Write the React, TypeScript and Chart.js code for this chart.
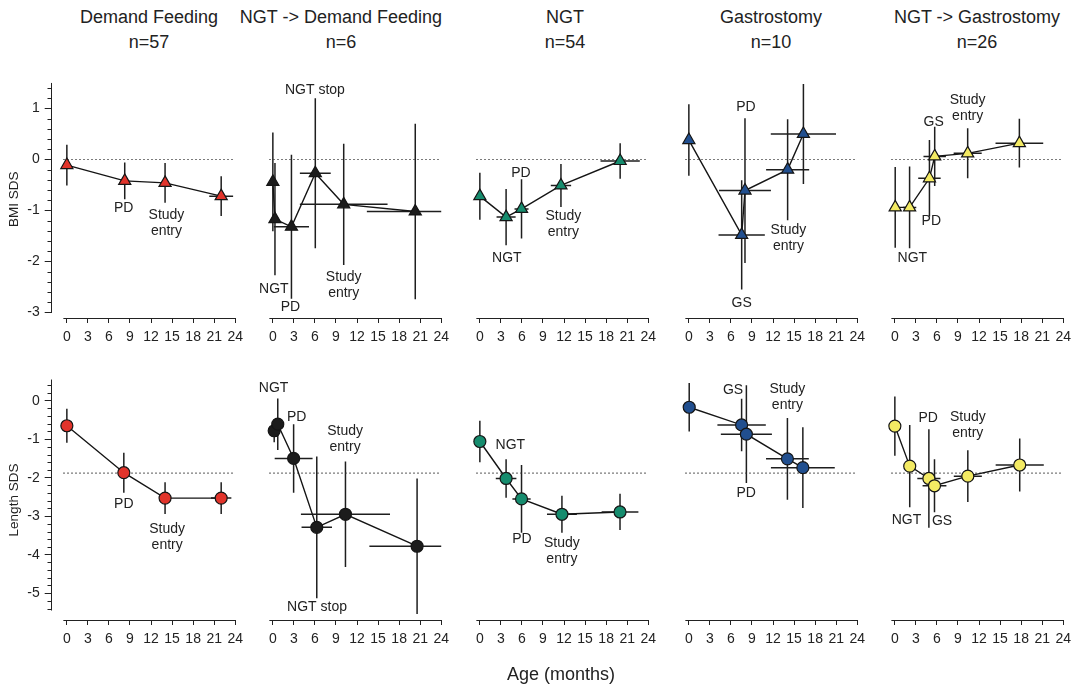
import React, { useEffect, useRef } from 'react';
import { Chart, registerables } from 'chart.js';

Chart.register(...registerables);

// ---------- Data (BMI SDS, top row) ----------
const bmiDemandAge = [0, 8.25, 14.0, 22.0];
const bmiDemandSds = [-0.11, -0.42, -0.46, -0.72];
const bmiDemandSdsErr = [0.4, 0.36, 0.39, 0.39];
const bmiDemandAgeErr = [0, 0, 0, 1.7];

const bmiNgtDemandAge = [0, 0.3, 2.65, 6.05, 10.1, 20.3];
const bmiNgtDemandSds = [-0.44, -1.17, -1.32, -0.27, -0.88, -1.02];
const bmiNgtDemandSdsErr = [0.97, 1.1, 1.41, 1.47, 1.19, 1.72];
const bmiNgtDemandAgeErr = [0, 0, 2.5, 2.2, 6.25, 6.9];

const bmiNgtAge = [0, 3.74, 5.94, 11.56, 20.0];
const bmiNgtSds = [-0.72, -1.13, -0.97, -0.51, -0.03];
const bmiNgtSdsErr = [0.46, 0.55, 0.58, 0.42, 0.35];
const bmiNgtAgeErr = [0, 1.36, 1.0, 1.45, 2.8];

const bmiGastroAge = [0, 7.53, 8.0, 14.08, 16.33];
const bmiGastroSds = [0.38, -1.48, -0.61, -0.2, 0.5];
const bmiGastroSdsErr = [0.7, 1.07, 1.42, 0.99, 0.98];
const bmiGastroAgeErr = [0, 3.3, 3.7, 3.07, 4.65];

const bmiNgtGastroAge = [0.05, 2.1, 4.93, 5.68, 10.38, 17.75];
const bmiNgtGastroSds = [-0.94, -0.94, -0.37, 0.06, 0.12, 0.32];
const bmiNgtGastroSdsErr = [0.79, 0.8, 0.75, 0.58, 0.49, 0.48];
const bmiNgtGastroAgeErr = [0, 0.95, 1.6, 1.6, 2.0, 3.4];

// ---------- Data (Length SDS, bottom row) ----------
const lenDemandAge = [0, 8.12, 14.0, 22.0];
const lenDemandSds = [-0.65, -1.87, -2.53, -2.53];
const lenDemandSdsErr = [0.44, 0.52, 0.41, 0.41];
const lenDemandAgeErr = [0, 0, 0, 1.45];

const lenNgtDemandAge = [0.19, 0.7, 2.96, 6.26, 10.35, 20.56];
const lenNgtDemandSds = [-0.78, -0.61, -1.5, -3.29, -2.95, -3.78];
const lenNgtDemandSdsErr = [0.3, 0.67, 0.89, 1.84, 1.37, 1.76];
const lenNgtDemandAgeErr = [0, 0, 2.7, 2.17, 6.35, 6.8];

const lenNgtAge = [0, 3.74, 5.94, 11.7, 19.98];
const lenNgtSds = [-1.06, -2.02, -2.55, -2.95, -2.89];
const lenNgtSdsErr = [0.54, 0.5, 0.88, 0.48, 0.47];
const lenNgtAgeErr = [0, 1.47, 1.3, 2.13, 2.62];

const lenGastroAge = [0.05, 7.52, 8.2, 14.05, 16.25];
const lenGastroSds = [-0.17, -0.63, -0.87, -1.51, -1.74];
const lenGastroSdsErr = [0.63, 0.68, 1.27, 1.06, 1.05];
const lenGastroAgeErr = [0, 3.45, 3.64, 3.05, 4.55];

const lenNgtGastroAge = [0, 2.12, 4.85, 5.65, 10.4, 17.8];
const lenNgtGastroSds = [-0.66, -1.7, -2.02, -2.21, -1.96, -1.67];
const lenNgtGastroSdsErr = [0.77, 1.07, 1.28, 0.69, 0.67, 0.69];
const lenNgtGastroAgeErr = [0, 0, 1.65, 1.7, 2.0, 3.43];

// ---------- Annotation labels (text, age, sds) ----------
const bmiDemandNotes = [['PD', 8.1, -0.96], ['Study\nentry', 14.2, -1.1]];
const bmiNgtDemandNotes = [['NGT stop', 6.0, 1.36], ['NGT', 0.14, -2.55], ['PD', 2.5, -2.89], ['Study\nentry', 10.1, -2.31]];
const bmiNgtNotes = [['PD', 5.85, -0.26], ['NGT', 3.84, -1.94], ['Study\nentry', 11.9, -1.12]];
const bmiGastroNotes = [['PD', 8.14, 1.02], ['GS', 7.53, -2.82], ['Study\nentry', 14.2, -1.38]];
const bmiNgtGastroNotes = [['Study\nentry', 10.38, 1.17], ['GS', 5.54, 0.74], ['PD', 5.2, -1.2], ['NGT', 2.5, -1.94]];

const lenDemandNotes = [['PD', 8.12, -2.69], ['Study\nentry', 14.3, -3.33]];
const lenNgtDemandNotes = [['NGT', 0.1, 0.32], ['PD', 3.4, -0.415], ['Study\nentry', 10.3, -0.79], ['NGT stop', 6.3, -5.35]];
const lenNgtNotes = [['NGT', 4.35, -1.15], ['PD', 6.0, -3.6], ['Study\nentry', 11.7, -3.69]];
const lenGastroNotes = [['GS', 6.3, 0.28], ['Study\nentry', 14.05, 0.3], ['PD', 8.17, -2.4]];
const lenNgtGastroNotes = [['PD', 4.75, -0.46], ['Study\nentry', 10.4, -0.44], ['NGT', 1.65, -3.1], ['GS', 6.73, -3.12]];

// ---------- Categories / ticks ----------
const groupTitles = ['Demand Feeding', 'NGT -> Demand Feeding', 'NGT', 'Gastrostomy', 'NGT -> Gastrostomy'];
const groupCounts = ['n=57', 'n=6', 'n=54', 'n=10', 'n=26'];
const groupColors = ['#e2342b', '#1c1c1c', '#168c6e', '#214f8f', '#f3ea63'];
const ageTicks = [0, 3, 6, 9, 12, 15, 18, 21, 24];
const bmiTicks = [-3, -2, -1, 0, 1];
const lenTicks = [-5, -4, -3, -2, -1, 0];
const bmiReference = 0;
const lenReference = -1.88;

const FONT = '"Liberation Sans", Arial, Helvetica, sans-serif';
const INK = '#222';

// ---------- Layout ----------
const X0 = [67, 273, 480, 689, 895];
const PPX = 7.08;
const YAXIS_GAP = 15.3;

const ROWS = {
  bmi: {
    top: 60, height: 300, caTop: 80.4, caBottom: 318, zeroPx: 159.45, ppu: 51,
    ref: bmiReference, majors: bmiTicks, axisFrom: -3, axisTo: 1.5, minorFrom: -3, minorTo: 1.4,
    title: 'BMI SDS', marker: 'triangle', radius: 7,
  },
  len: {
    top: 360, height: 300, caTop: 380, caBottom: 620, zeroPx: 400.7, ppu: 38.5,
    ref: lenReference, majors: lenTicks, axisFrom: -5.45, axisTo: 0.55, minorFrom: -5.4, minorTo: 0.4,
    title: 'Length SDS', marker: 'circle', radius: 6,
  },
};

type PanelSpec = {
  row: 'bmi' | 'len';
  col: number;
  age: number[];
  sds: number[];
  ageErr: number[];
  sdsErr: number[];
  notes: any[];
};

const panels: PanelSpec[] = [
  { row: 'bmi', col: 0, age: bmiDemandAge, sds: bmiDemandSds, ageErr: bmiDemandAgeErr, sdsErr: bmiDemandSdsErr, notes: bmiDemandNotes },
  { row: 'bmi', col: 1, age: bmiNgtDemandAge, sds: bmiNgtDemandSds, ageErr: bmiNgtDemandAgeErr, sdsErr: bmiNgtDemandSdsErr, notes: bmiNgtDemandNotes },
  { row: 'bmi', col: 2, age: bmiNgtAge, sds: bmiNgtSds, ageErr: bmiNgtAgeErr, sdsErr: bmiNgtSdsErr, notes: bmiNgtNotes },
  { row: 'bmi', col: 3, age: bmiGastroAge, sds: bmiGastroSds, ageErr: bmiGastroAgeErr, sdsErr: bmiGastroSdsErr, notes: bmiGastroNotes },
  { row: 'bmi', col: 4, age: bmiNgtGastroAge, sds: bmiNgtGastroSds, ageErr: bmiNgtGastroAgeErr, sdsErr: bmiNgtGastroSdsErr, notes: bmiNgtGastroNotes },
  { row: 'len', col: 0, age: lenDemandAge, sds: lenDemandSds, ageErr: lenDemandAgeErr, sdsErr: lenDemandSdsErr, notes: lenDemandNotes },
  { row: 'len', col: 1, age: lenNgtDemandAge, sds: lenNgtDemandSds, ageErr: lenNgtDemandAgeErr, sdsErr: lenNgtDemandSdsErr, notes: lenNgtDemandNotes },
  { row: 'len', col: 2, age: lenNgtAge, sds: lenNgtSds, ageErr: lenNgtAgeErr, sdsErr: lenNgtSdsErr, notes: lenNgtNotes },
  { row: 'len', col: 3, age: lenGastroAge, sds: lenGastroSds, ageErr: lenGastroAgeErr, sdsErr: lenGastroSdsErr, notes: lenGastroNotes },
  { row: 'len', col: 4, age: lenNgtGastroAge, sds: lenNgtGastroSds, ageErr: lenNgtGastroAgeErr, sdsErr: lenNgtGastroSdsErr, notes: lenNgtGastroNotes },
];

function geometry(spec: PanelSpec) {
  const r = ROWS[spec.row];
  const caLeft = X0[spec.col] - YAXIS_GAP;
  const caRight = X0[spec.col] + 24 * PPX;
  const left = spec.col === 0 ? 0 : Math.floor(caLeft) - 10;
  const width = Math.ceil(caRight + 12) - left;
  return {
    left,
    width,
    top: r.top,
    height: r.height,
    padLeft: spec.col === 0 ? 0 : caLeft - left,
    padRight: width - (caRight - left),
    padTop: r.caTop - r.top,
    xAxisH: r.top + r.height - r.caBottom,
    yAxisW: caLeft,
    xMin: -YAXIS_GAP / PPX,
    xMax: 24,
    yMax: (r.zeroPx - r.caTop) / r.ppu,
    yMin: (r.zeroPx - r.caBottom) / r.ppu,
  };
}

function makeDecor(spec: PanelSpec) {
  const r = ROWS[spec.row];
  const showY = spec.col === 0;
  return {
    id: 'panelDecor',
    beforeDatasetsDraw(chart: any) {
      const { ctx, chartArea } = chart;
      const xs = chart.scales.x;
      const ys = chart.scales.y;
      ctx.save();
      ctx.strokeStyle = INK;
      ctx.lineWidth = 1;
      // detached x axis line
      const by = Math.round(chartArea.bottom) + 0.5;
      ctx.beginPath();
      ctx.moveTo(xs.getPixelForValue(-0.5), by);
      ctx.lineTo(xs.getPixelForValue(24), by);
      ctx.stroke();
      if (showY) {
        const ax = Math.round(chartArea.left) - 0.5;
        ctx.beginPath();
        ctx.moveTo(ax, ys.getPixelForValue(r.axisFrom));
        ctx.lineTo(ax, ys.getPixelForValue(r.axisTo));
        ctx.stroke();
        const n = Math.round((r.minorTo - r.minorFrom) / 0.2);
        for (let i = 0; i <= n; i++) {
          const v = Math.round((r.minorFrom + i * 0.2) * 10) / 10;
          if (Math.abs(v - Math.round(v)) < 1e-6) continue;
          const py = Math.round(ys.getPixelForValue(v)) + 0.5;
          ctx.beginPath();
          ctx.moveTo(ax - 4, py);
          ctx.lineTo(ax, py);
          ctx.stroke();
        }
      }
      // error bars
      ctx.beginPath();
      ctx.rect(chartArea.left, chartArea.top - 2, chartArea.right - chartArea.left, chartArea.bottom - chartArea.top + 4);
      ctx.clip();
      ctx.lineWidth = 1.5;
      ctx.strokeStyle = '#1e1e1e';
      for (let i = 0; i < spec.age.length; i++) {
        const a = spec.age[i];
        const s = spec.sds[i];
        const ea = spec.ageErr[i];
        const es = spec.sdsErr[i];
        const px = xs.getPixelForValue(a);
        const py = ys.getPixelForValue(s);
        if (es > 0) {
          ctx.beginPath();
          ctx.moveTo(px, ys.getPixelForValue(s + es));
          ctx.lineTo(px, ys.getPixelForValue(s - es));
          ctx.stroke();
        }
        if (ea > 0) {
          ctx.beginPath();
          ctx.moveTo(xs.getPixelForValue(a - ea), py);
          ctx.lineTo(xs.getPixelForValue(a + ea), py);
          ctx.stroke();
        }
      }
      ctx.restore();
    },
    afterDatasetsDraw(chart: any) {
      const { ctx } = chart;
      const xs = chart.scales.x;
      const ys = chart.scales.y;
      ctx.save();
      ctx.fillStyle = INK;
      ctx.font = `14px ${FONT}`;
      ctx.textAlign = 'center';
      ctx.textBaseline = 'middle';
      for (const [text, a, s] of spec.notes) {
        const px = xs.getPixelForValue(a);
        const py = ys.getPixelForValue(s);
        String(text).split('\n').forEach((line: string, k: number) => {
          ctx.fillText(line, px, py + k * 16);
        });
      }
      ctx.restore();
    },
  };
}

function Panel({ spec }: { spec: PanelSpec }) {
  const ref = useRef<HTMLCanvasElement | null>(null);
  const g = geometry(spec);
  const r = ROWS[spec.row];
  useEffect(() => {
    if (!ref.current) return;
    const points = spec.age.map((a, i) => ({ x: a, y: spec.sds[i] }));
    const refLine = [{ x: -0.5, y: r.ref }, { x: 24, y: r.ref }];
    const showY = spec.col === 0;
    const chart = new Chart(ref.current, {
      type: 'scatter',
      data: {
        datasets: [
          {
            data: points,
            showLine: true,
            borderColor: '#151515',
            borderWidth: 1.4,
            tension: 0,
            pointStyle: r.marker as any,
            pointRadius: r.radius,
            pointHoverRadius: r.radius,
            pointBackgroundColor: groupColors[spec.col],
            pointBorderColor: '#151515',
            pointBorderWidth: 1.2,
          },
          {
            data: refLine,
            showLine: true,
            borderColor: '#333',
            borderWidth: 1.1,
            borderDash: [1.3, 2.7],
            pointRadius: 0,
            pointHoverRadius: 0,
          },
        ],
      },
      options: {
        responsive: false,
        animation: false,
        devicePixelRatio: 1,
        events: [],
        layout: { padding: { top: g.padTop, left: g.padLeft, right: g.padRight, bottom: 0 } },
        plugins: { legend: { display: false }, tooltip: { enabled: false }, title: { display: false } },
        scales: {
          x: {
            type: 'linear',
            min: g.xMin,
            max: g.xMax,
            afterBuildTicks: (s: any) => { s.ticks = ageTicks.map((v) => ({ value: v })); },
            afterFit: (s: any) => { s.height = g.xAxisH; },
            grid: { display: true, drawOnChartArea: false, drawTicks: true, tickLength: 5, color: INK, lineWidth: 1 },
            border: { display: false },
            ticks: {
              font: { family: FONT, size: 14 }, color: INK, padding: 6,
              maxRotation: 0, autoSkip: false, callback: (v: any) => String(v),
            },
          },
          y: {
            type: 'linear',
            display: showY,
            min: g.yMin,
            max: g.yMax,
            afterBuildTicks: (s: any) => { s.ticks = r.majors.map((v) => ({ value: v })); },
            afterFit: (s: any) => { if (showY) s.width = g.yAxisW; },
            grid: { display: true, drawOnChartArea: false, drawTicks: true, tickLength: 7, color: INK, lineWidth: 1 },
            border: { display: false },
            ticks: { font: { family: FONT, size: 14 }, color: INK, padding: 5, autoSkip: false, callback: (v: any) => String(v) },
            title: { display: true, text: r.title, font: { family: FONT, size: 13.5 }, color: INK, padding: { top: 6, bottom: 0 } },
          },
        },
      },
      plugins: [makeDecor(spec)],
    } as any);
    return () => chart.destroy();
  }, []);
  return (
    <canvas
      ref={ref}
      width={g.width}
      height={g.height}
      style={{ position: 'absolute', left: g.left, top: g.top, width: g.width, height: g.height }}
    />
  );
}

const titleCenters = [149, 341, 565, 771, 977];

export default function App() {
  return (
    <div style={{ position: 'fixed', left: 0, top: 0, width: 1081, height: 686, background: '#fff', overflow: 'hidden', fontFamily: FONT, color: INK }}>
      {groupTitles.map((t, i) => (
        <div
          key={t}
          style={{ position: 'absolute', left: titleCenters[i] - 150, width: 300, top: 5, textAlign: 'center', fontSize: 18, lineHeight: '24.5px' }}
        >
          <div>{t}</div>
          <div>{groupCounts[i]}</div>
        </div>
      ))}
      {panels.map((p) => (
        <Panel key={`${p.row}-${p.col}`} spec={p} />
      ))}
      <div style={{ position: 'absolute', left: 461, width: 200, top: 663, textAlign: 'center', fontSize: 18, lineHeight: '22px' }}>
        Age (months)
      </div>
    </div>
  );
}
